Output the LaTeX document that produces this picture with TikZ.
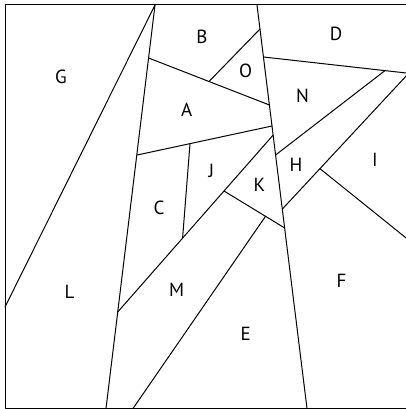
\documentclass[tikz,border=0pt]{standalone}
\usepackage{fontspec}
\setmainfont{PT Sans}
\begin{document}
\begin{tikzpicture}[x=1pt,y=-1pt,
  seg/.style={line width=1pt, line cap=round, line join=round},
  lbl/.style={font=\fontsize{19}{19}\selectfont, inner sep=0pt}]
\useasboundingbox (0,0) rectangle (406,409);
% frame
\coordinate (FTL) at (5,5);
\coordinate (FBR) at (408,408.5);
\draw[seg] (FTL) rectangle (FBR);
% apexes and bottoms
\coordinate (T1) at (155,5);
\coordinate (T2) at (257,5);
\coordinate (BL) at (106,408.5);
\coordinate (BR) at (307,408.5);
\coordinate (GL) at (5,307);
% points on left line
\coordinate (l1) at (148.6,58);
\coordinate (l2) at (137.2,155);
\coordinate (l3) at (117.7,312);
% points on right line
\coordinate (r1) at (260,29);
\coordinate (r2) at (263.5,57);
\coordinate (r3) at (269.4,105);
\coordinate (r4) at (272,126);
\coordinate (r5) at (273.2,135);
\coordinate (r6) at (275.6,155);
\coordinate (r7) at (282.4,209);
\coordinate (r8) at (284.7,228);
% inner points
\coordinate (o1) at (209,81.5);
\coordinate (c1) at (190,143.6);
\coordinate (c2) at (182.6,238);
\coordinate (k1) at (224,191);
\coordinate (e1) at (265.5,216.3);
\coordinate (eB) at (133,408.5);
\coordinate (n1) at (385,70.6);
\coordinate (nR) at (408,73.2);
\coordinate (hR) at (408,74);
\coordinate (i1) at (320,168.7);
\coordinate (iR) at (408,239.5);
% main lines
\draw[seg] (T1) -- (GL);
\draw[seg] (T1) -- (BL);
\draw[seg] (T2) -- (BR);
% interior lines
\draw[seg] (l1) -- (r3);
\draw[seg] (r1) -- (o1);
\draw[seg] (l2) -- (r4);
\draw[seg] (c1) -- (c2);
\draw[seg] (r5) -- (l3);
\draw[seg] (k1) -- (r8);
\draw[seg] (e1) -- (eB);
\draw[seg] (r2) -- (nR);
\draw[seg] (n1) -- (r6);
\draw[seg] (hR) -- (r7);
\draw[seg] (i1) -- (iR);
% labels
\node[lbl] (B) at (202,37) {B};
\node[lbl] (D) at (336,33.5) {D};
\node[lbl] (G) at (61,76.5) {G};
\node[lbl] (O) at (245.5,71) {O};
\node[lbl] (A) at (186.7,109.5) {A};
\node[lbl] (N) at (302.5,95.5) {N};
\node[lbl] (I) at (375,160) {I};
\node[lbl] (J) at (211.5,170.5) {J};
\node[lbl] (H) at (296,165) {H};
\node[lbl] (K) at (259.5,184.5) {K};
\node[lbl] (C) at (159,208) {C};
\node[lbl] (L) at (69.5,292) {L};
\node[lbl] (M) at (176.7,290) {M};
\node[lbl] (F) at (341.5,280.5) {F};
\node[lbl] (E) at (245.7,334) {E};
\end{tikzpicture}
\end{document}
